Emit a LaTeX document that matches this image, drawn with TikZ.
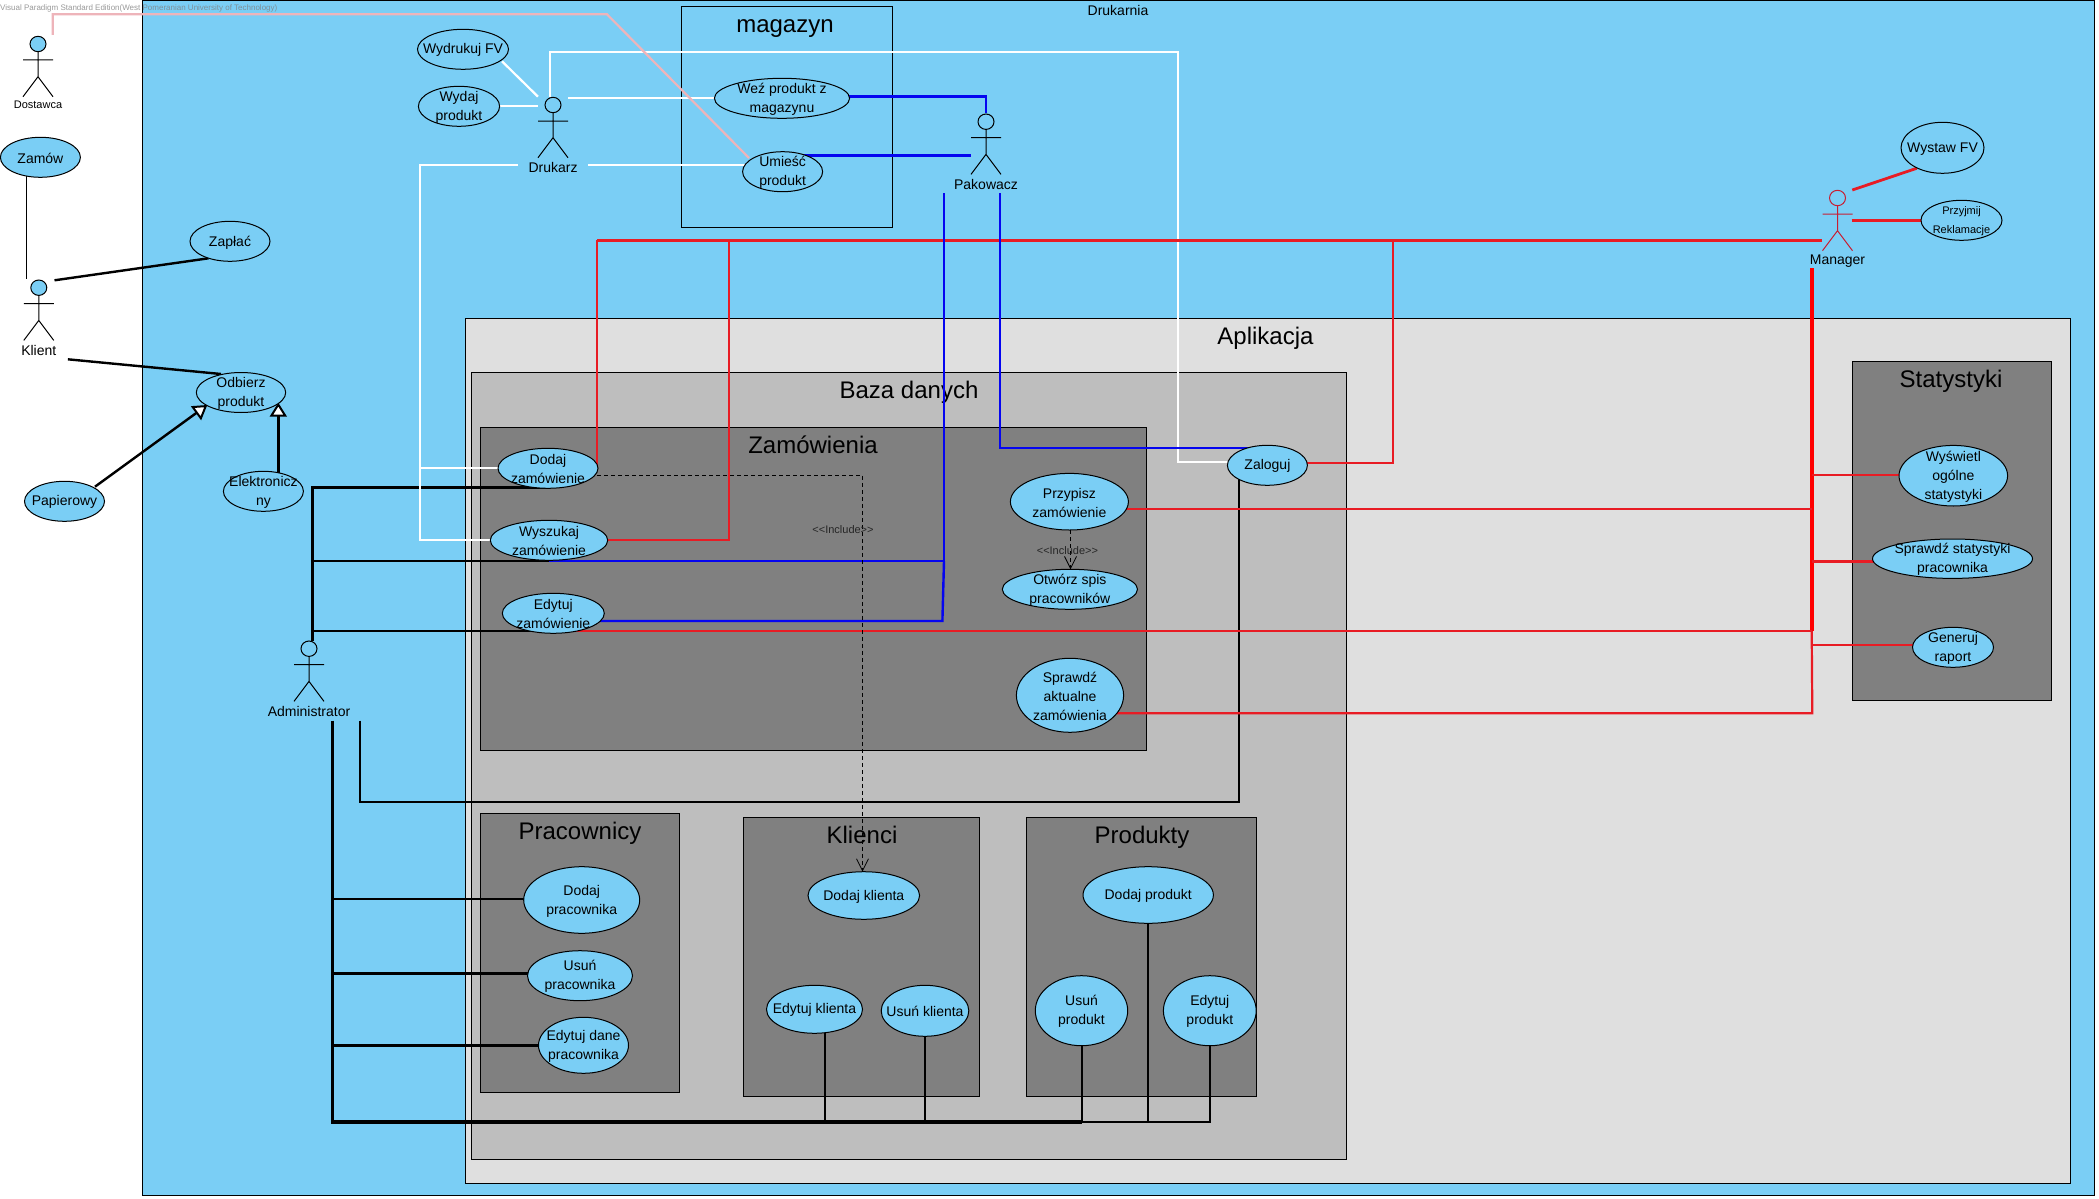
\documentclass[tikz,border=0pt]{standalone}
\usepackage{fontspec}
\setmainfont{Liberation Sans}
\usetikzlibrary{arrows.meta,shapes.geometric}
\pgfdeclarelayer{bg}
\pgfdeclarelayer{conn}
\pgfsetlayers{bg,conn,main}
\definecolor{ucblue}{RGB}{122,206,245}
\definecolor{lgrey}{RGB}{223,223,223}
\definecolor{mgrey}{RGB}{190,190,190}
\definecolor{dgrey}{RGB}{128,128,128}
\definecolor{cred}{RGB}{232,28,36}
\definecolor{cblue}{RGB}{5,5,240}
\definecolor{cpink}{RGB}{238,180,186}
\definecolor{mgrred}{RGB}{200,30,50}
\tikzset{
  usecase/.style={ellipse,draw=black,line width=1pt,fill=ucblue,inner sep=0pt,outer sep=0pt},
  uctext/.style={inner sep=0pt,align=center,yshift=-1pt,font=\fontsize{14}{19}\selectfont},
  container/.style={rectangle,draw=black,line width=1pt,inner sep=0pt,outer sep=0pt},
  contlabel/.style={inner sep=0pt,font=\fontsize{24}{28}\selectfont},
  actorhead/.style={ellipse,line width=1pt,fill=ucblue,minimum width=16pt,minimum height=15.4pt,inner sep=0pt,outer sep=0pt},
  actorlabel/.style={inner sep=0pt,font=\fontsize{14}{16}\selectfont},
  wline/.style={draw=white,line width=2.2pt},
  kline/.style={draw=black,line width=2.4pt},
  kthin/.style={draw=black,line width=2pt},
  kthick/.style={draw=black,line width=3.6pt},
  rline/.style={draw=cred,line width=2.2pt},
  bline/.style={draw=cblue,line width=2.4pt},
  incl/.style={draw=black,line width=.8pt,dash pattern=on 4pt off 3pt},
  incltip/.style={-{Straight Barb[length=12pt,width=12pt,line width=.8pt]}},
  gentip/.style={-{Triangle[open,fill=white,length=14pt,width=17pt,line width=2pt]}},
  incllabel/.style={inner sep=0pt,font=\fontsize{11}{13}\selectfont,text=black!85},
}
\newcommand{\uc}[6]{%
  \node[usecase,minimum width={2*#4},minimum height={2*#5}] (#1) at (#2,#3) {};
  \node[uctext] (#1-text) at (#1.center) {#6};}
\newcommand{\cont}[8]{%
  \begin{pgfonlayer}{bg}
  \node[container,fill=#6,minimum width={#4-#2},minimum height={#5-#3}] (#1) at ({(#2+#4)/2},{(#3+#5)/2}) {};
  \node[contlabel] (#1-label) at (#7,#8) {\csname lbl#1\endcsname};
  \end{pgfonlayer}}
\newcommand{\actor}[7][14]{%
  \node[actorhead,draw=#6] (#2) at (#3,#4) {};
  \draw[draw=#6,line width=1pt] (#2.south) -- ++(0,25) ++(0,-16.7) ++(-15,0) -- ++(30,0)
     ++(-15,8.7) ++(0,8) ++(-15,20) -- ++(15,-20) -- ++(15,20);
  \node[actorlabel,font=\fontsize{#1}{16}\selectfont] (#2-label) at (#3,{#4+#7}) {#5};}
\newcommand{\lblmag}{magazyn}
\newcommand{\lblapp}{Aplikacja}
\newcommand{\lblbaza}{Baza danych}
\newcommand{\lblzam}{Zamówienia}
\newcommand{\lblprac}{Pracownicy}
\newcommand{\lblkli}{Klienci}
\newcommand{\lblprod}{Produkty}
\newcommand{\lblstat}{Statystyki}
\begin{document}
\begin{tikzpicture}[x=1pt,y=-1pt]
\useasboundingbox (0,0) rectangle (2099,1199);
% containers
\begin{pgfonlayer}{bg}
\fill[white] (0,0) rectangle (2099,1199);
\node[container,fill=ucblue,minimum width=1951.9pt,minimum height=1194pt] (druk) at (1118.35,598) {};
\node[inner sep=0pt,font=\fontsize{14}{16}\selectfont] (druk-label) at (1118,10) {Drukarnia};
\end{pgfonlayer}
\cont{mag}{681}{6.3}{892.4}{227.7}{ucblue}{785}{29}
\cont{app}{465.6}{318.3}{2070.3}{1183.3}{lgrey}{1265.5}{338.5}
\cont{baza}{471.4}{372.3}{1346.4}{1159.3}{mgrey}{909}{392}
\cont{zam}{480.4}{427.3}{1146.4}{750.3}{dgrey}{813}{445}
\cont{prac}{480}{813.3}{679.5}{1092.7}{dgrey}{580}{833}
\cont{kli}{743.3}{817.3}{979.5}{1096.3}{dgrey}{862}{835}
\cont{prod}{1026.3}{817.3}{1256.7}{1096.3}{dgrey}{1142}{837}
\cont{stat}{1852.3}{361.3}{2051.7}{700.3}{dgrey}{1951}{381}
% use cases
\uc{zamow}{40.4}{157.3}{40}{20}{Zamów}
\uc{zaplac}{230}{241.3}{40}{20}{Zapłać}
\uc{odbierz}{241}{392.5}{44.7}{20}{Odbierz\\produkt}
\uc{papier}{64.5}{501.3}{40}{20}{Papierowy}
\uc{elektr}{263.4}{491.3}{40}{20}{Elektronicz\\ny}
\uc{wydrukuj}{463}{49.3}{45.5}{20}{Wydrukuj FV}
\uc{wydaj}{459}{106.3}{40.6}{20}{Wydaj\\produkt}
\uc{wez}{782}{98.3}{67.6}{20}{Weź produkt z\\magazynu}
\uc{umiesc}{782.6}{171.7}{40}{20}{Umieść\\produkt}
\uc{wystaw}{1942.5}{147.8}{41.5}{25.5}{Wystaw FV}
\uc{przyjmij}{1961.5}{220.3}{40.5}{20}{\fontsize{11}{15}\selectfont Przyjmij\\\fontsize{11}{15}\selectfont Reklamacje}
\uc{dzam}{548}{468.3}{50}{20}{Dodaj\\zamówienie}
\uc{wzam}{549}{540.3}{58.7}{20}{Wyszukaj\\zamówienie}
\uc{ezam}{553.3}{613.3}{51}{20}{Edytuj\\zamówienie}
\uc{zaloguj}{1267.4}{465.3}{40}{20}{Zaloguj}
\uc{przypisz}{1069.4}{501.7}{59}{28.3}{Przypisz\\zamówienie}
\uc{otworz}{1069.9}{589.3}{67.6}{20}{Otwórz spis\\pracowników}
\uc{sprawdz}{1070}{695.3}{53.6}{37}{Sprawdź\\aktualne\\zamówienia}
\uc{dprac}{581.7}{900}{58}{33.3}{Dodaj\\pracownika}
\uc{uprac}{580}{975.7}{52.5}{25}{Usuń\\pracownika}
\uc{eprac}{583.5}{1045.3}{45}{28}{Edytuj dane\\pracownika}
\uc{dkli}{863.8}{895.5}{55.8}{23.8}{Dodaj klienta}
\uc{ekli}{814.5}{1009.3}{48}{24}{Edytuj klienta}
\uc{ukli}{925}{1010.8}{43.8}{25.5}{Usuń klienta}
\uc{dprod}{1148.2}{895}{65.2}{28.3}{Dodaj produkt}
\uc{uprod}{1081.5}{1010.7}{46.2}{35}{Usuń\\produkt}
\uc{eprod}{1209.8}{1010.7}{46.4}{35}{Edytuj\\produkt}
\uc{wogol}{1953.3}{475.7}{54.3}{30.3}{Wyświetl\\ogólne\\statystyki}
\uc{sstat}{1952.5}{558.7}{80}{19.7}{Sprawdź statystyki\\pracownika}
\uc{gener}{1953}{647.3}{40.5}{20}{Generuj\\raport}
% actors
\actor[11]{dostawca}{38}{44}{Dostawca}{black}{60.3}
\actor{klient}{38.8}{287.7}{Klient}{black}{62.3}
\actor{drukarz}{553}{105}{Drukarz}{black}{62.3}
\actor{pakowacz}{986}{121.7}{Pakowacz}{black}{62.6}
\actor{manager}{1837.5}{198}{Manager}{mgrred}{62.7}
\actor{admin}{309}{648.7}{Administrator}{black}{62.6}
% connector ends and bends
\coordinate (pDost) at (52.7,35);
\coordinate (pDostA) at (52.7,14.3);
\coordinate (pDostB) at (607,14.3);
\coordinate (pUmi) at (749,158);
\coordinate (kZam) at (26.3,279.3);
\coordinate (kZap) at (54.5,280.3);
\coordinate (zapK) at (208.5,258.3);
\coordinate (kOdb) at (67.9,359.3);
\coordinate (odbK) at (221,374);
\coordinate (papO) at (95,486.7);
\coordinate (odbP) at (207.3,405);
\coordinate (eleO) at (278.3,472.7);
\coordinate (odbE) at (278.3,402.7);
\coordinate (aTop) at (312.5,640.7);
\coordinate (aA) at (312.5,487.3);
\coordinate (aB) at (312.5,561);
\coordinate (aC) at (312.5,631);
\coordinate (kThickTop) at (332.6,720.7);
\coordinate (kThickBot) at (332.6,1122);
\coordinate (kThinTop) at (360.3,720.7);
\coordinate (kThinBot) at (360.3,802.3);
\coordinate (aD) at (332.6,899);
\coordinate (aE) at (332.6,973.3);
\coordinate (aF) at (332.6,1045.3);
\coordinate (dWFV) at (538,96.7);
\coordinate (dWyd) at (538,108.3);
\coordinate (wFVd) at (502,61.3);
\coordinate (dTop) at (550,96.7);
\coordinate (dTopA) at (550,51.7);
\coordinate (dTopB) at (1177.7,51.7);
\coordinate (dTopC) at (1177.7,462);
\coordinate (dWez) at (568,98.3);
\coordinate (dUmi) at (588.4,165.3);
\coordinate (dLeft) at (518,165.3);
\coordinate (dLeftA) at (419.6,165.3);
\coordinate (dLeftB) at (419.6,540.3);
\coordinate (dLeftM) at (419.6,468.3);
\coordinate (pWez) at (986.2,113.3);
\coordinate (pUmi2) at (970.5,155.3);
\coordinate (pL) at (944,193.3);
\coordinate (pLb) at (944,561);
\coordinate (pLc) at (942.4,621);
\coordinate (pR) at (1000.4,193.3);
\coordinate (pRb) at (1000.4,448.3);
\coordinate (mW) at (1821.7,240.3);
\coordinate (mDz) at (596.6,240.3);
\coordinate (mDzB) at (596.6,466);
\coordinate (mWz) at (728.6,240.3);
\coordinate (mWzB) at (728.6,540.3);
\coordinate (mZal) at (1393.3,240.3);
\coordinate (mZalB) at (1393.3,462.7);
\coordinate (mWys) at (1852.3,190);
\coordinate (wysM) at (1916.7,168.3);
\coordinate (mPrz) at (1851.7,220.3);
\coordinate (tTop) at (1811.7,268.3);
\coordinate (tMid) at (1811.7,631);
\coordinate (tBot) at (1812.3,713.3);
\coordinate (tPrz) at (1811.7,508.7);
\coordinate (tWog) at (1811.7,474.7);
\coordinate (tSst) at (1811.7,561.5);
\coordinate (tGen) at (1812.3,645.3);
\coordinate (inclA) at (590,475.3);
\coordinate (inclB) at (862.5,475.3);
\coordinate (uEkli) at (825.4,1009.3);
% connectors
\begin{pgfonlayer}{conn}
\draw[kline,line width=1.2pt] (zamow.center -| kZam) -- (kZam);
\draw[kline] (kZap) -- (zapK);
\draw[kline] (kOdb) -- (odbK);
% administrator
\draw[kline] (aTop) -- (aA) -- (aA -| dzam.center);
\draw[kline] (aB) -- (aB -| wzam.center);
\draw[kline] (aC) -- (aC -| ezam.center);
\draw[kthin] (kThinTop) -- (kThinBot) -- (kThinBot -| zaloguj.south west) -- (zaloguj.south west);
\draw[kthick] (kThickTop) -- (kThickBot) -- (kThickBot -| uprod.center);
\draw[kthin] (kThickBot -| uprod.center) -- (kThickBot -| eprod.center) -- (eprod.center);
\draw[kthin] (kThickBot -| uprod.center) -- (uprod.center);
\draw[kthin] (kThickBot -| dprod.center) -- (dprod.center);
\draw[kthin] (kThickBot -| ukli.center) -- (ukli.center);
\draw[kthin] (kThickBot -| uEkli) -- (uEkli);
\draw[kline] (aD) -- (aD -| dprac.center);
\draw[kline] (aE) -- (aE -| uprac.center);
\draw[kline] (aF) -- (aF -| eprac.center);
% white
\draw[wline] (wFVd) -- (dWFV);
\draw[wline] (wydaj.center) -- (dWyd |- wydaj.center);
\draw[wline] (dTop) -- (dTopA) -- (dTopB) -- (dTopC) -- (dTopC -| zaloguj.center);
\draw[wline] (dWez) -- (wez.center);
\draw[wline] (dUmi) -- (dUmi -| umiesc.center);
\draw[wline] (dLeft) -- (dLeftA) -- (dLeftB) -- (wzam.center);
\draw[wline] (dLeftM) -- (dzam.center);
% red
\draw[rline,line width=3pt] (mW) -- (mZal);
\draw[rline,line width=2.6pt] (mZal) -- (mDz);
\draw[rline] (mDz) -- (mDzB);
\draw[rline] (mWz) -- (mWzB) -- (wzam.center);
\draw[rline] (mZal) -- (mZalB) -- (mZalB -| zaloguj.center);
\draw[rline,line width=2.8pt] (mWys) -- (wysM);
\draw[rline,line width=2.8pt] (mPrz) -- (mPrz -| przyjmij.center);
\draw[draw=red,line width=4.4pt] (tTop) -- (tMid);
\draw[rline] (tMid) -- (tBot) -- (tBot -| sprawdz.center);
\draw[rline] (tPrz) -- (tPrz -| przypisz.center);
\draw[rline] (tMid) -- (tMid -| ezam.center);
\draw[rline] (tWog) -- (tWog -| wogol.center);
\draw[rline] (tSst) -- (tSst -| sstat.center);
\draw[rline] (tGen) -- (tGen -| gener.center);
% blue
\draw[bline] (wez.center |- 0,96.3) -- (pWez |- 0,96.3) -- (pWez);
\draw[bline] (pUmi2) -- (pUmi2 -| umiesc.center);
\draw[bline] (pL) -- (pLb) -- (pLb -| wzam.center);
\draw[bline] (pLb) -- (pLc) -- (pLc -| ezam.center);
\draw[bline,line width=2pt] (pR) -- (pRb) -- (pRb -| zaloguj.center);
% pink
\draw[draw=cpink,line width=2.2pt] (pDost) -- (pDostA) -- (pDostB) -- (pUmi);
% generalizations
\draw[kline,gentip] (papO) -- (odbP);
\draw[kline,gentip] (eleO) -- (odbE);
% includes
\draw[incl,incltip] (inclA) -- (inclB) -- (dkli.north -| inclB);
\draw[incl,incltip] (przypisz.south -| 1070.5,0) -- (otworz.north -| 1070.5,0);
\node[incllabel] (inclT1) at (843,530) {<{}<Include>{}>};
\node[incllabel] (inclT2) at (1067.4,551) {<{}<Include>{}>};
\end{pgfonlayer}
\node[inner sep=0pt,anchor=west,font=\fontsize{8}{10}\selectfont,text=gray,opacity=.8] (wm) at (0,8) {Visual Paradigm Standard Edition(West Pomeranian University of Technology)};
\end{tikzpicture}
\end{document}
